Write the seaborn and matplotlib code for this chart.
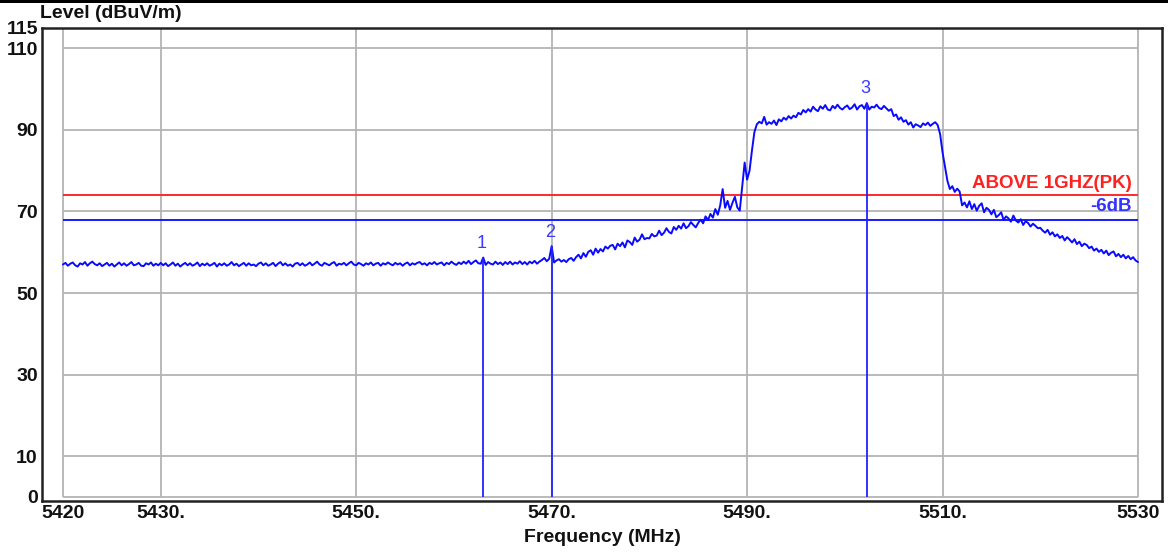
import numpy as np
import matplotlib
matplotlib.use("Agg")
import matplotlib.pyplot as plt
import seaborn as sns
from matplotlib.patches import Rectangle

# ---------------- data ----------------
f_start, f_stop = 5420.0, 5530.0
level = [
    # 5420 - 5424.75
    57.0, 57.4, 56.7, 57.2, 57.5, 56.8, 56.5, 57.3, 57.0, 57.6, 56.7, 57.3, 57.7, 57.1, 56.8, 57.3, 56.6, 57.0, 57.4, 56.7,
    # 5425
    57.2, 56.5, 57.0, 57.5, 56.8, 57.3, 56.7, 57.1, 57.6, 56.8, 57.0, 57.4, 56.7, 56.6, 57.3, 57.0, 57.5, 56.7, 57.2, 56.8,
    # 5430
    57.4, 56.8, 57.3, 56.6, 57.0, 57.5, 56.7, 57.2, 56.5, 57.0, 57.4, 56.8, 57.3, 56.7, 57.0, 57.5, 56.6, 57.2, 56.8, 57.3,
    # 5435
    56.7, 57.0, 57.4, 56.5, 57.2, 56.8, 57.3, 56.7, 57.0, 57.6, 56.8, 57.2, 56.6, 57.0, 57.4, 56.7, 57.3, 56.8, 57.0, 56.6,
    # 5440
    57.2, 57.5, 56.8, 57.3, 56.7, 57.0, 57.4, 56.6, 57.2, 57.6, 56.8, 57.3, 56.7, 57.0, 56.5, 57.2, 57.4, 56.8, 57.3, 56.7,
    # 5445
    57.0, 57.5, 56.8, 57.2, 57.7, 57.0, 56.7, 57.4, 57.1, 56.8, 57.3, 57.6, 56.7, 57.2, 57.0, 57.4, 56.8, 57.3, 57.7, 57.0,
    # 5450
    56.8, 57.4, 57.1, 56.7, 57.3, 57.0, 57.5, 56.8, 57.2, 57.4, 56.7, 57.3, 57.0, 57.5, 57.1, 56.8, 57.4, 57.0, 57.3, 56.7,
    # 5455
    57.2, 57.5, 56.8, 57.3, 57.0, 57.4, 57.6, 57.0, 57.3, 56.8, 57.4, 57.1, 57.6, 57.0, 57.3, 57.5, 56.8, 57.4, 57.1, 57.7,
    # 5460
    57.2, 56.9, 57.5, 57.1, 57.7, 57.2, 57.9, 57.1, 57.6, 58.0, 57.3, 57.2, 58.7, 56.9, 57.6, 57.2, 57.0, 57.7, 57.1, 57.5,
    # 5465
    56.9, 57.6, 57.1, 57.7, 57.0, 57.5, 57.2, 57.8, 57.1, 57.6, 57.0, 57.7, 57.3, 57.9, 57.2, 57.7, 58.1, 58.6, 57.8, 58.4,
    # 5470
    61.5, 57.5, 58.0, 58.3, 57.7, 58.1, 57.6, 58.3, 58.6, 57.9, 58.8, 59.4, 58.5, 59.8, 58.9, 60.1, 60.5, 59.4, 60.9, 59.9,
    # 5475
    60.8, 60.2, 61.4, 60.9, 61.6, 61.8, 60.7, 62.1, 61.5, 62.4, 61.2, 62.9, 62.5, 61.8, 63.6, 62.6, 63.1, 64.4, 63.2, 63.5,
    # 5480
    63.4, 64.5, 63.9, 64.1, 65.3, 64.2, 64.8, 65.9, 65.0, 64.6, 66.2, 65.5, 66.5, 65.8, 67.1, 65.9, 66.4, 67.4, 66.7, 66.1,
    # 5485
    67.2, 68.0, 67.1, 68.8, 67.9, 69.4, 68.5, 70.6, 69.2, 71.5, 75.5, 70.9, 72.6, 70.4, 72.1, 73.6, 71.0, 70.2, 76.0, 82.0,
    # 5490
    77.8, 80.0, 85.0, 89.5, 91.4, 92.0, 91.6, 93.2, 91.3, 91.9, 91.5, 92.3, 91.2, 92.6, 92.1, 93.0, 92.5, 93.4, 92.8, 93.5,
    # 5495
    93.1, 94.2, 93.8, 94.9, 94.3, 95.1, 94.5, 95.7, 95.0, 94.6, 95.8, 95.2, 96.1, 95.0, 94.8, 95.9, 95.3, 96.2, 95.4, 95.0,
    # 5500
    95.6, 96.0, 95.1, 95.5, 96.3, 95.0, 95.8, 96.1, 95.2, 96.6, 95.0, 95.7, 95.5, 96.2, 95.4, 95.1, 95.9, 95.3, 94.7, 95.1,
    # 5505
    93.4, 93.8, 92.5, 93.1, 92.0, 92.4, 91.3, 91.9, 90.6, 91.4, 91.1, 90.7, 91.6, 91.2, 91.8, 91.0, 91.5, 91.9, 91.2, 89.0,
    # 5510
    84.5, 81.0, 77.5, 75.5, 76.2, 74.8, 75.6, 74.9, 71.5, 72.2, 71.0, 72.5, 70.6, 71.8, 70.2, 71.4, 72.0, 69.8, 70.9, 70.4,
    # 5515
    69.3, 70.4, 68.6, 69.1, 69.8, 67.9, 68.8, 68.3, 67.5, 69.0, 67.8, 67.3, 68.1, 66.7, 67.6, 67.2, 66.3, 67.0, 66.5, 65.9,
    # 5520
    66.0, 65.3, 64.8, 65.5, 64.3, 64.9, 63.9, 64.4, 63.5, 64.0, 62.9, 63.7, 63.1, 62.4, 63.2, 62.0, 62.6, 61.5, 62.1, 61.8,
    # 5525
    61.0, 61.4, 60.4, 60.9, 60.1, 60.6, 59.7, 60.4, 59.3, 59.9, 60.2, 59.0, 59.6, 58.8, 59.4, 58.5, 59.1, 58.3, 58.8, 58.0,
    # 5530
    57.6,
]
freq = np.linspace(f_start, f_stop, len(level))

limit_value = 74.0
limit_label = "ABOVE 1GHZ(PK)"
margin_value = 68.0
margin_label = "-6dB"

marker_ids = ["1", "2", "3"]
marker_freq = [5463.0, 5470.0, 5502.25]
marker_level = [58.7, 61.5, 96.6]

x_ticks = [5420, 5430, 5450, 5470, 5490, 5510, 5530]
x_ticklabels = ["5420", "5430.", "5450.", "5470.", "5490.", "5510.", "5530"]
y_ticks = [0, 10, 30, 50, 70, 90, 110, 115]
y_grid = [0, 10, 30, 50, 70, 90, 110]

# ---------------- style ----------------
sns.set_style("white")
plt.rcParams["font.family"] = ["Liberation Sans", "DejaVu Sans"]

trace_color = "#0a0aff"
grid_color = "#b4b4b4"

fig = plt.figure(figsize=(11.68, 5.52), dpi=100)
ax = fig.add_axes([42 / 1168, 1 - 501 / 552, (1162 - 42) / 1168, (501 - 28) / 552])

x0 = f_start - 21 / 9.7727
x1 = f_stop + 24 / 9.7727
ax.set_xlim(x0, x1)
ax.set_ylim(-1, 115)

# grid (only inside the frequency span)
ax.hlines(y_grid, f_start, f_stop, color=grid_color, lw=1.3, zorder=1)
ax.vlines(x_ticks, 0, 115, color=grid_color, lw=1.3, zorder=1)

# limit lines
ax.hlines([limit_value], f_start, f_stop, color="#ff2a2a", lw=1.4, zorder=2)
ax.hlines([margin_value], f_start, f_stop, color="#1a1aff", lw=1.4, zorder=2)
ax.annotate(limit_label, xy=(f_stop - 0.6, limit_value), xytext=(0, 2),
            textcoords="offset points", ha="right", va="bottom",
            color="#ff2020", fontsize=13.5, fontweight="bold")
ax.annotate(margin_label, xy=(f_stop - 0.6, margin_value), xytext=(0, 3),
            textcoords="offset points", ha="right", va="bottom",
            color="#3333ff", fontsize=13.5, fontweight="bold")

# trace
sns.lineplot(x=freq, y=level, ax=ax, color=trace_color, lw=1.4, zorder=3)

# markers
ax.vlines(marker_freq, 0, marker_level, color="#2222ff", lw=1.3, zorder=3)
for mid, mf, ml in zip(marker_ids, marker_freq, marker_level):
    ax.annotate(mid, xy=(mf, ml), xytext=(-1, 4), textcoords="offset points",
                ha="center", va="bottom", color="#3a3aff", fontsize=13)

# axes styling
for s in ax.spines.values():
    s.set_color("#222222")
    s.set_linewidth(1.8)
ax.set_xticks(x_ticks)
ax.set_xticklabels(x_ticklabels)
ax.set_yticks(y_ticks)
ax.set_yticklabels([str(v) for v in y_ticks])
ax.tick_params(axis="both", length=0, labelsize=14, colors="#111111")
ax.tick_params(axis="x", pad=3)
ax.tick_params(axis="y", pad=3)
for lab in ax.get_xticklabels() + ax.get_yticklabels():
    lab.set_fontweight("bold")

ax.set_xlabel("Frequency (MHz)", fontsize=14, fontweight="bold", labelpad=5, color="#111111")
fig.text(40 / 1168, 1 - 14 / 552, "Level (dBuV/m)", ha="left", va="center",
         fontsize=14, fontweight="bold", color="#111111")

# thin dark band at the very top of the image
fig.add_artist(Rectangle((0, 1 - 3 / 552), 1, 3 / 552, transform=fig.transFigure,
                         color="black", lw=0))

fig.savefig("out.png", dpi=100)
